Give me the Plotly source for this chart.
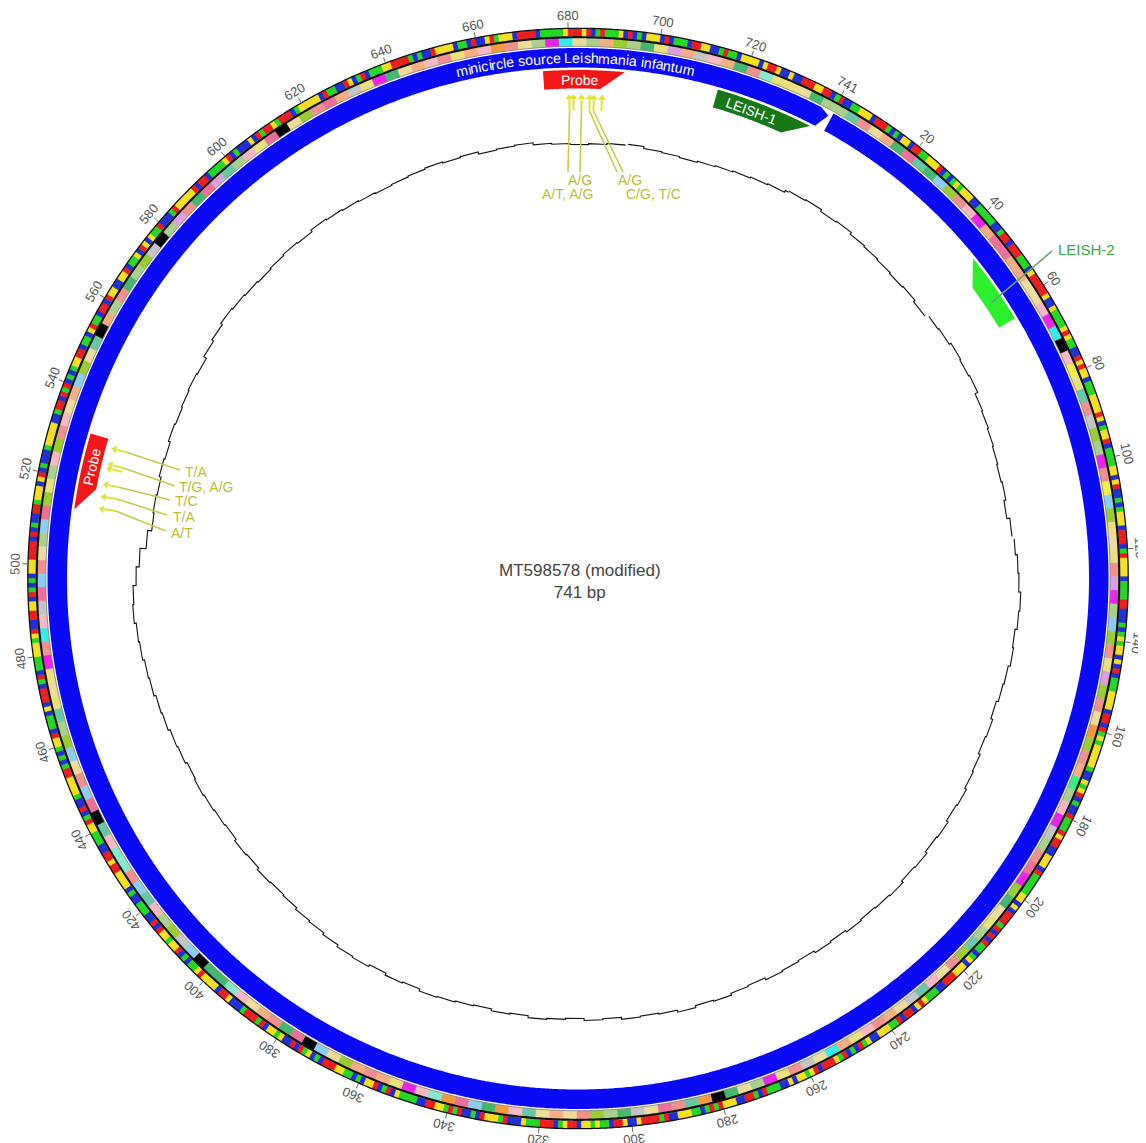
import numpy as np
import plotly.graph_objects as go

# ---------------- data ----------------
SEQ_LEN = 741
sequence_rows = [
    "GCC AAT TTC GGG ACA CTT CGG AAT TTG CAC",
    "ATA TTT CCA AAA ACC AGG CGG GAA ACT GGG",
    "GGT CCT AAA ATG TAA CCG TGT TCA AAT TTT",
    "GTC ATT GCA AAA TTC TGC CAC ATT TCG GGC",
    "AGT TTT CAA AAG GCC CAC ATA TTC TCG CAA",
    "ATT TTC GGC GAT ATT TTT ACC TAT GCA CCG",
    "AAA GTG GCC TTT CGA AAA ATT CTC GGG AGC",
    "GCG AAC ATC TTT GGG CCA AAT GTC GGC GAA",
    "TTT CCT AGC ACG ATG GGC GTA TTC TCC AAA",
    "GCA GGC CTT TGA GAC AAT TTC CGA GGG GTC",
    "CTG GCA ATA TTC GGT ACG GGA AAT CCC GAT",
    "TTG CAC CGA GAT TGG CCA AAA TCG ACG TTC",
    "ACA ATT GGG CAC TAG CGC CTA TTC GAG GGA",
    "CCC TGG CTT TTG TAA CAC GTT ATT GCG CCA",
    "AAC CAC TTT TGG TGG CCA AAT TGA CGC CAT",
    "TTT GGA CAC ATT GCA AAC TCG GGC AGC AAA",
    "TTT ATG CCG GTT CGA CAC TTT GGG GCG CAC",
    "CGG ATT TCT GCA CCC ATT TTT CCA GGC GAG",
    "CAC ATT GGC AAC TGA ACG GCG TTC CTT GCA",
    "ATC GTC TAA GCC CAG TTT TTG CGG CAA AAT",
    "GCA CCC TCG AGG TAG GGC ATT TTT CGA ACC",
    "GTC AGC AAA TTG GGG ACA CCG TTT TCA ACG",
    "CCT GAT TTC GGG GCA AAA ATG GGT GCA GAA",
    "ATC GCA CTT TCG CAA ACG GTT CCA GAA CTT",
    "TTC TGG TCC TCC GGG TTG GCA",
]
sequence = "".join(sequence_rows).replace(" ", "")

# GC content (%) in windows of 5 bp
GC_BIN = 5
gc_percent = [
    46, 47, 45, 46, 44, 43, 42, 41, 42, 40,
    43, 44, 46, 45, 46, 43, 42, 41, 40, 39,
    40, 38, 41, 43, 45, 46, 48, 47, 45, 46,
    44, 43, 41, 43, 42, 44, 45, 47, 46, 48,
    47, 49, 48, 50, 49, 48, 49, 47, 48, 46,
    47, 48, 46, 47, 49, 48, 50, 48, 47, 48,
    46, 47, 45, 46, 47, 45, 46, 44, 45, 46,
    47, 45, 46, 44, 46, 45, 43, 41, 40, 38,
    37, 38, 36, 37, 35, 36, 37, 38, 37, 39,
    40, 42, 43, 45, 46, 48, 49, 51, 50, 47,
    44, 38, 34, 35, 34, 36, 35, 37, 36, 37,
    38, 37, 40, 42, 44, 43, 42, 41, 42, 43,
    42, 44, 43, 42, 41, 40, 41, 42, 43, 42,
    43, 41, 42, 43, 41, 40, 39, 40, 41, 42,
    40, 39, 38, 39, 40, 41, 42, 43, 45,
]
gc_gaps = [50, 115, 695]

tick_positions = list(range(20, 740, 20)) + [741]

feat_label = ["minicircle source Leishmania infantum", "LEISH-1", "LEISH-2", "Probe", "Probe"]
feat_start = [0, 715, 46, 674, 513]
feat_end = [741, 738, 63, 693, 531]
feat_strand = [1, 1, -1, 1, -1]
feat_color = ["#0a0af5", "#167816", "#2cf02c", "#f41616", "#f41616"]

mm_top_labels = ["A/T, A/G", "A/G", "A/G", "C/G, T/C"]
mm_top_pos = [[680, 681], [683], [685], [686, 688]]
mm_left_labels = ["T/A", "T/G, A/G", "T/C", "T/A", "A/T"]
mm_left_pos = [[529], [524, 525], [520], [517], [514]]

title_text = "MT598578 (modified)<br>741 bp"

# ---------------- geometry helpers ----------------
W, H = 1146, 1143
OFF = 8                          # page body margin of the browser
CX, CY = 578.0, 578.5            # centre in screen pixels
R_DOM = 564.0
ROT0 = 28.6                      # compass angle of position 0
DEG = 360.0 / SEQ_LEN
FONT = "Liberation Sans, Arial, sans-serif"


def compass(p):
    return ROT0 + p * DEG


def to_px(p, r):
    a = np.radians(compass(p))
    return CX + r * np.sin(a), CY - r * np.cos(a)


def paper(x, y):
    return (x - OFF) / W, 1 - (y - OFF) / H


def tangle(p):
    a = compass(p) % 360
    return a - 360 if a > 180 else a


annotations = []
shapes = []
traces = []

# ---------------- nucleotide ring ----------------
nt_colors = {"A": "#22d822", "T": "#f5df1e", "G": "#ee1c1c", "C": "#1f2fd8"}
nt_cols = [nt_colors[b] for b in sequence]
traces.append(go.Barpolar(
    theta=[(i + 0.5) * DEG for i in range(len(sequence))],
    r=[7.5] * len(sequence), base=[542.5] * len(sequence),
    width=[DEG] * len(sequence),
    marker=dict(color=nt_cols, line=dict(color=nt_cols, width=0.6)),
    hoverinfo="skip"))

# ---------------- amino-acid ring ----------------
bases = "TCAG"
aa_table = "FFLLSSSSYY**CC*WLLLLPPPPHHQQRRRRIIIMTTTTNNKKSSRRVVVVAAAADDEEGGGG"
codon_map = {a + b + c: aa_table[16 * i + 4 * j + k]
             for i, a in enumerate(bases) for j, b in enumerate(bases) for k, c in enumerate(bases)}
protein = "".join(codon_map[sequence[3 * k:3 * k + 3]] for k in range(len(sequence) // 3))
aa_colors = {
    "A": "#a9d18e", "R": "#ef6f96", "N": "#66c8a4", "D": "#f59a3c", "C": "#f7f040",
    "Q": "#d9a0d9", "E": "#f4b080", "G": "#eedc9a", "H": "#8ccdf2", "I": "#9acd32",
    "L": "#43b86e", "K": "#ee22ee", "M": "#33eeee", "F": "#f29090", "P": "#f7b8c4",
    "S": "#ece07c", "T": "#f9ac86", "W": "#86e8cc", "Y": "#38ee80", "V": "#c4c4c4",
    "*": "#000000",
}
aa_cols = [aa_colors[a] for a in protein]
traces.append(go.Barpolar(
    theta=[(3 * k + 1.5) * DEG for k in range(len(protein))],
    r=[8.0] * len(protein), base=[532.5] * len(protein),
    width=[3 * DEG] * len(protein),
    marker=dict(color=aa_cols, line=dict(color=aa_cols, width=0.6)),
    hoverinfo="skip"))

# ring outlines
circ = np.linspace(0, 360, 1441)
for rr, col, wd in [(550.2, "#111111", 1.3), (541.3, "#111111", 2.2), (532.2, "#777777", 0.8)]:
    traces.append(go.Scatterpolar(theta=circ, r=[rr] * len(circ), mode="lines",
                                  line=dict(color=col, width=wd), hoverinfo="skip"))

# ---------------- features ----------------
for i in range(len(feat_label)):
    s, e, st = feat_start[i], feat_end[i], feat_strand[i]
    if i == 0:
        r_in, r_out = 511.0, 530.5
        tip = 2.6
        outer = np.linspace(s + 0.4, e - tip, 1600)
        inner = np.linspace(e - tip + 0.6, s + 0.4, 1600)
        th = np.concatenate([outer, [e - 0.4], inner, [s + 0.4]])
        rr = np.concatenate([[r_out] * len(outer), [526.0], [r_in] * len(inner), [r_out]])
    else:
        r_in, r_out = 490.0, 508.5
        tip = 5.5
        nn = 40
        outer = np.linspace(s, e, nn)
        if st == 1:
            inner = np.linspace(e - tip, s, nn)
        else:
            inner = np.linspace(e, s + tip, nn)
        th = np.concatenate([outer, inner, [s]])
        rr = np.concatenate([[r_out] * nn, [r_in] * nn, [r_out]])
    traces.append(go.Scatterpolar(theta=th * DEG, r=rr, mode="lines", fill="toself",
                                  fillcolor=feat_color[i], line=dict(width=0, color=feat_color[i]),
                                  hoverinfo="skip"))

# ---------------- GC graph (stepped, one step per window) ----------------
gth, gr = [], []
for i, v in enumerate(gc_percent):
    a = i * GC_BIN
    b = min(a + GC_BIN, SEQ_LEN)
    rv = 395 + v
    if a in gc_gaps:
        gth += [(a - 0.7) * DEG, None]
        gr += [gr[-1], None]
        gth.append((a + 0.7) * DEG)
        gr.append(rv)
    else:
        gth.append(a * DEG)
        gr.append(rv)
    gth.append(b * DEG)
    gr.append(rv)
traces.append(go.Scatterpolar(theta=gth, r=gr, mode="lines", connectgaps=False,
                              line=dict(color="#111111", width=1.1), hoverinfo="skip"))

# ---------------- ticks ----------------
tk_th, tk_r = [], []
for p in tick_positions:
    tk_th += [p * DEG, p * DEG, None]
    tk_r += [550.5, 556, None]
    x, y = to_px(p, 563)
    px_, py_ = paper(x, y)
    annotations.append(dict(x=px_, y=py_, xref="paper", yref="paper", text=str(p),
                            showarrow=False, textangle=tangle(p), xanchor="center", yanchor="middle",
                            font=dict(family=FONT, size=13, color="#555555")))
traces.append(go.Scatterpolar(theta=tk_th, r=tk_r, mode="lines",
                              line=dict(color="#666666", width=1), hoverinfo="skip"))

# ---------------- mismatch markers ----------------
mm_all = [p for g in mm_top_pos for p in g] + [p for g in mm_left_pos for p in g]
st_th, st_r = [], []
for p in mm_all:
    st_th += [p * DEG, p * DEG, None]
    st_r += [468, 479, None]
traces.append(go.Scatterpolar(theta=st_th, r=st_r, mode="lines",
                              line=dict(color="#e2e23a", width=2), hoverinfo="skip"))
traces.append(go.Scatterpolar(theta=[p * DEG for p in mm_all], r=[481] * len(mm_all), mode="markers",
                              marker=dict(symbol="triangle-up", size=7, color="#e2e23a",
                                          angle=[compass(p) for p in mm_all]),
                              hoverinfo="skip"))

LEAD = "#c9c94a"
LBL = "#bcbc36"
top_line_end = [(568, 172), (580, 172), (617, 172), (623, 172)]
top_label_xy = [(567, 194), (580, 180), (630, 180), (653, 194)]
for lab, grp, (ex, ey), (lx, ly) in zip(mm_top_labels, mm_top_pos, top_line_end, top_label_xy):
    sx, sy = to_px(grp[0], 468)
    x0, y0 = paper(sx, sy)
    x1, y1 = paper(ex, ey)
    shapes.append(dict(type="line", xref="paper", yref="paper", x0=x0, y0=y0, x1=x1, y1=y1,
                       line=dict(color=LEAD, width=1.6)))
    ax, ay = paper(lx, ly)
    annotations.append(dict(x=ax, y=ay, xref="paper", yref="paper", text=lab, showarrow=False,
                            xanchor="center", yanchor="middle", borderpad=0,
                            font=dict(family=FONT, size=14, color=LBL)))

left_line_end = [(180, 470), (175, 486), (170, 500), (167, 515), (166, 531)]
left_label_xy = [(184, 472), (178, 487), (174, 501), (172, 517), (170, 533)]
for lab, grp, (ex, ey), (lx, ly) in zip(mm_left_labels, mm_left_pos, left_line_end, left_label_xy):
    sx, sy = to_px(grp[-1], 468)
    x0, y0 = paper(sx, sy)
    x1, y1 = paper(ex, ey)
    shapes.append(dict(type="line", xref="paper", yref="paper", x0=x0, y0=y0, x1=x1, y1=y1,
                       line=dict(color=LEAD, width=1.6)))
    ax, ay = paper(lx, ly)
    annotations.append(dict(x=ax, y=ay, xref="paper", yref="paper", text=lab, showarrow=False,
                            xanchor="left", yanchor="middle", borderpad=0,
                            font=dict(family=FONT, size=14, color=LBL)))

# ---------------- feature labels ----------------
ARIAL = {"a": .556, "b": .556, "c": .5, "d": .556, "e": .556, "f": .278, "g": .556, "h": .556,
         "i": .222, "j": .222, "k": .5, "l": .222, "m": .833, "n": .556, "o": .556, "p": .556,
         "q": .556, "r": .333, "s": .5, "t": .278, "u": .556, "v": .5, "w": .722, "x": .5,
         "y": .5, "z": .5, " ": .278, "L": .556}

# curved label on the blue source feature
txt = feat_label[0]
fs = 14.2
r_txt = 520.5
widths = [ARIAL.get(c, .6) * fs for c in txt]
total = sum(widths)
center_p = 681.5
span_p = np.degrees(total / r_txt) / DEG
cum = 0.0
for c, wch in zip(txt, widths):
    p = center_p - span_p / 2 + np.degrees((cum + wch / 2) / r_txt) / DEG
    cum += wch
    if c == " ":
        continue
    x, y = to_px(p, r_txt)
    px_, py_ = paper(x, y)
    annotations.append(dict(x=px_, y=py_, xref="paper", yref="paper", text=c, showarrow=False,
                            textangle=tangle(p), xanchor="center", yanchor="middle", borderpad=0,
                            font=dict(family=FONT, size=fs, color="white")))

inner_labels = [(1, 724.0), (3, 682.5), (4, 523.5)]
for idx, p in inner_labels:
    x, y = to_px(p, 499)
    px_, py_ = paper(x, y)
    annotations.append(dict(x=px_, y=py_, xref="paper", yref="paper", text=feat_label[idx],
                            showarrow=False, textangle=tangle(p), xanchor="center", yanchor="middle",
                            font=dict(family=FONT, size=14, color="white")))

# LEISH-2 outside label with leader
sx, sy = to_px(57, 497)
x0, y0 = paper(sx, sy)
x1, y1 = paper(1052, 251)
shapes.append(dict(type="line", xref="paper", yref="paper", x0=x0, y0=y0, x1=x1, y1=y1,
                   line=dict(color="#62a472", width=1.6)))
lx, ly = paper(1056, 249)
annotations.append(dict(x=lx, y=ly, xref="paper", yref="paper", text=feat_label[2], showarrow=False,
                        xanchor="left", yanchor="middle",
                        font=dict(family=FONT, size=15, color="#34aa40")))

# centre title
tx, ty = paper(580, 581)
annotations.append(dict(x=tx, y=ty, xref="paper", yref="paper", text=title_text, showarrow=False,
                        xanchor="center", yanchor="middle",
                        font=dict(family=FONT, size=17, color="#444444")))

# ---------------- figure ----------------
cxf, cyf = CX - OFF, CY - OFF
fig = go.Figure(traces)
fig.update_layout(
    width=W, height=H, margin=dict(l=0, r=0, t=0, b=0),
    paper_bgcolor="white", plot_bgcolor="white", showlegend=False, hovermode=False,
    polar=dict(
        domain=dict(x=[(cxf - R_DOM) / W, (cxf + R_DOM) / W],
                    y=[1 - (cyf + R_DOM) / H, 1 - (cyf - R_DOM) / H]),
        bgcolor="rgba(0,0,0,0)", barmode="overlay",
        radialaxis=dict(range=[0, R_DOM], visible=False),
        angularaxis=dict(rotation=90 - ROT0, direction="clockwise", thetaunit="degrees",
                         showline=False, showgrid=False, showticklabels=False, ticks=""),
    ),
    annotations=annotations, shapes=shapes,
)
fig.write_html("out.html")
